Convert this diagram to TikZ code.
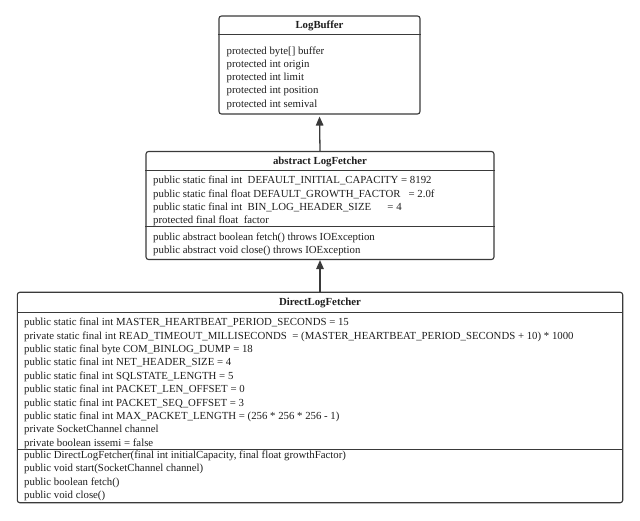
\documentclass[tikz,border=0pt]{standalone}
\usepackage{fontspec}
\setmainfont{Liberation Serif}
\usetikzlibrary{arrows.meta}
\definecolor{edge}{HTML}{3A3A3A}
\definecolor{ink}{HTML}{1E1E1E}
\begin{document}
\begin{tikzpicture}[x=1pt,y=-1pt,
  umlbox/.style={draw=edge, line width=1.1pt, rounded corners=2.5pt, inner sep=0pt, fill=white},
  sepline/.style={draw=edge, line width=1pt},
  txt/.style={anchor=west, inner sep=0pt, text=ink, font=\fontsize{10.8}{13}\selectfont},
  ttl/.style={anchor=center, inner sep=0pt, text=ink, font=\fontsize{10.8}{13}\selectfont\bfseries},
  inherit/.style={draw=edge, line width=1.3pt, -{Triangle[length=9pt,width=7.5pt]}}
]
\useasboundingbox (0,0) rectangle (640,521);
% ---------- LogBuffer ----------
\node[umlbox, minimum width=201pt, minimum height=98pt] (lb) at (319.5,65) {};
\draw[sepline] (lb.west |- 0,35) -- (lb.east |- 0,35);
\node[ttl] (lbt) at (319.5,26) {LogBuffer};
\node[txt] (lb1) at (226.5,51.5) {protected byte[] buffer};
\node[txt] (lb2) at (226.5,64.8) {protected int origin};
\node[txt] (lb3) at (226.5,78.1) {protected int limit};
\node[txt] (lb4) at (226.5,91.4) {protected int position};
\node[txt] (lb5) at (226.5,104.7) {protected int semival};
% ---------- LogFetcher ----------
\node[umlbox, minimum width=348pt, minimum height=108pt] (lf) at (320,205.5) {};
\draw[sepline] (lf.west |- 0,171) -- (lf.east |- 0,171);
\draw[sepline] (lf.west |- 0,227) -- (lf.east |- 0,227);
\node[ttl] (lft) at (320,161.5) {abstract LogFetcher};
\node[txt] (lf1) at (153,181) {public static final int\ \ DEFAULT\_INITIAL\_CAPACITY = 8192};
\node[txt] (lf2) at (153,194.4) {public static final float DEFAULT\_GROWTH\_FACTOR\ \ \ = 2.0f};
\node[txt] (lf3) at (153,207.8) {public static final int\ \ BIN\_LOG\_HEADER\_SIZE\ \ \ \ \ \ = 4};
\node[txt] (lf4) at (153,221.2) {protected final float\ \ factor};
\node[txt] (lf5) at (153,237.5) {public abstract boolean fetch() throws IOException};
\node[txt] (lf6) at (153,250.9) {public abstract void close() throws IOException};
% ---------- DirectLogFetcher ----------
\node[umlbox, minimum width=605.4pt, minimum height=210.4pt] (dl) at (320,397.5) {};
\draw[sepline] (dl.west |- 0,312.3) -- (dl.east |- 0,312.3);
\draw[sepline] (dl.west |- 0,449.3) -- (dl.east |- 0,449.3);
\node[ttl] (dlt) at (320,302.5) {DirectLogFetcher};
\node[txt] (dl1) at (24,323) {public static final int MASTER\_HEARTBEAT\_PERIOD\_SECONDS = 15};
\node[txt] (dl2) at (24,336.4) {private static final int READ\_TIMEOUT\_MILLISECONDS\ \ = (MASTER\_HEARTBEAT\_PERIOD\_SECONDS + 10) * 1000};
\node[txt] (dl3) at (24,349.8) {public static final byte COM\_BINLOG\_DUMP = 18};
\node[txt] (dl4) at (24,363.2) {public static final int NET\_HEADER\_SIZE = 4};
\node[txt] (dl5) at (24,376.6) {public static final int SQLSTATE\_LENGTH = 5};
\node[txt] (dl6) at (24,390.0) {public static final int PACKET\_LEN\_OFFSET = 0};
\node[txt] (dl7) at (24,403.4) {public static final int PACKET\_SEQ\_OFFSET = 3};
\node[txt] (dl8) at (24,416.8) {public static final int MAX\_PACKET\_LENGTH = (256 * 256 * 256 - 1)};
\node[txt] (dl9) at (24,430.2) {private SocketChannel channel};
\node[txt] (dl10) at (24,443.6) {private boolean issemi = false};
\node[txt] (dl11) at (24,456) {public DirectLogFetcher(final int initialCapacity, final float growthFactor)};
\node[txt] (dl12) at (24,469.4) {public void start(SocketChannel channel)};
\node[txt] (dl13) at (24,482.8) {public boolean fetch()};
\node[txt] (dl14) at (24,496.2) {public void close()};
% ---------- connectors ----------
\draw[inherit, shorten >=2pt] (lf.north) -- (lb.south);
\draw[inherit] (dl.north) -- (lf.south);
\end{tikzpicture}
\end{document}
